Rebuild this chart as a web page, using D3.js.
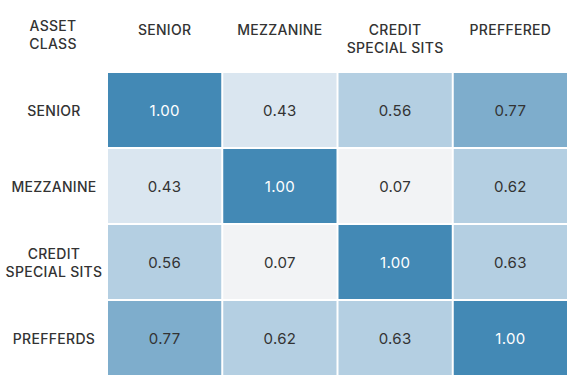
<!DOCTYPE html>
<html>
<head>
<meta charset="utf-8">
<script src="https://cdn.jsdelivr.net/npm/d3@7"></script>
<style>
  body { margin: 0; background: #fff; }
  text { font-family: "Inter", "Noto Sans", sans-serif; fill: #333; }
</style>
</head>
<body>
<div id="chart"></div>
<script>
// correlation matrix of asset classes
var colLabels = ["SENIOR", "MEZZANINE", "CREDIT\nSPECIAL SITS", "PREFFERED"];
var rowLabels = ["SENIOR", "MEZZANINE", "CREDIT\nSPECIAL SITS", "PREFFERDS"];
var cornerLabel = "ASSET\nCLASS";

var values = [
    [1.00, 0.43, 0.56, 0.77],
    [0.43, 1.00, 0.07, 0.62],
    [0.56, 0.07, 1.00, 0.63],
    [0.77, 0.62, 0.63, 1.00]
];

var colorBreaks = [0.3, 0.5, 0.7, 0.9];
var colorSteps = ["#f2f3f5", "#dae6f0", "#b4cfe2", "#7eadcc", "#4389b5"];

var width = 583,
    height = 390,
    margin = { top: 72, right: 15, bottom: 14, left: 107 };

var svg = d3.select("#chart").append("svg")
    .attr("width", width)
    .attr("height", height);

var x = d3.scaleBand()
    .domain(d3.range(colLabels.length))
    .range([margin.left, width - margin.right]);

var y = d3.scaleBand()
    .domain(d3.range(rowLabels.length))
    .range([margin.top, height - margin.bottom]);

var color = d3.scaleThreshold()
    .domain(colorBreaks)
    .range(colorSteps);

var cells = [];
values.forEach(function(row, i) {
    row.forEach(function(v, j) { cells.push({ r: i, c: j, v: v }); });
});

var cell = svg.selectAll(".cell")
    .data(cells)
    .enter().append("g")
    .attr("class", "cell")
    .attr("transform", function(d) { return "translate(" + x(d.c) + "," + y(d.r) + ")"; });

cell.append("rect")
    .attr("x", 1)
    .attr("y", 1)
    .attr("width", x.bandwidth() - 2)
    .attr("height", y.bandwidth() - 2)
    .attr("fill", function(d) { return color(d.v); });

cell.append("text")
    .attr("x", x.bandwidth() / 2)
    .attr("y", y.bandwidth() / 2 + 1)
    .attr("dy", "0.35em")
    .attr("text-anchor", "middle")
    .style("font-size", "15px")
    .style("letter-spacing", "0.3px")
    .style("fill", function(d) { return d.v > 0.9 ? "#ffffff" : "#333"; })
    .text(function(d) { return d.v.toFixed(2); });

// multi-line label helper
function multiline(sel, txt, cx, cy, top) {
    var lines = txt.split("\n");
    var lh = 18.5;
    var t = sel.append("text")
        .attr("text-anchor", "middle")
        .style("font-size", "14px")
        .style("letter-spacing", "0.3px")
        .style("font-weight", 500);
    lines.forEach(function(l, k) {
        var off = top ? k * lh : (k - (lines.length - 1) / 2) * lh;
        t.append("tspan")
            .attr("x", cx)
            .attr("y", cy + off)
            .attr("dy", "0.35em")
            .text(l);
    });
}

var header = svg.append("g");
colLabels.forEach(function(l, j) {
    multiline(header, l, x(j) + x.bandwidth() / 2, 30, true);
});
multiline(header, cornerLabel, 53, 26, true);

var side = svg.append("g");
rowLabels.forEach(function(l, i) {
    multiline(side, l, 54, y(i) + y.bandwidth() / 2 + 1, false);
});
</script>
</body>
</html>
